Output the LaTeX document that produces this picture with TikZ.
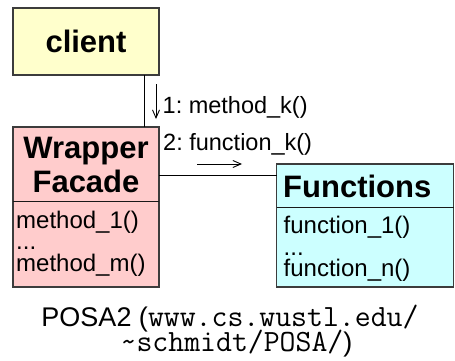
\documentclass[tikz,border=0pt]{standalone}
\usepackage{fontspec}
\setmainfont{Liberation Sans}
\usetikzlibrary{arrows.meta}

\definecolor{clientfill}{HTML}{FFFFCC}
\definecolor{wrapperfill}{HTML}{FFCCCC}
\definecolor{funcfill}{HTML}{CCFFFF}
\definecolor{edgegray}{HTML}{3C3C3C}

\tikzset{
  classbox/.style={draw=edgegray, line width=1.5pt, rectangle, inner sep=0pt,
                   outer sep=0pt, anchor=north west},
  divider/.style={draw=black!90, line width=1pt},
  link/.style={draw=black, line width=1pt},
  msgarrow/.style={draw=black, line width=0.9pt,
                   -{Straight Barb[length=8pt,width=7pt,line width=0.9pt]}},
  titletext/.style={font=\fontsize{31}{34}\selectfont\bfseries, inner sep=0pt},
  membertext/.style={font=\fontsize{24}{26}\selectfont, inner sep=0pt, anchor=base west},
  msgtext/.style={font=\fontsize{23.5}{26}\selectfont, inner sep=0pt, anchor=base west},
  captiontext/.style={font=\fontsize{27}{30}\selectfont, inner sep=0pt, anchor=base},
}
\newcommand{\captt}{\fontsize{30.9}{30}\selectfont\ttfamily}
\frenchspacing

\begin{document}
\begin{tikzpicture}[x=1pt, y=-1pt]
\useasboundingbox (0,0) rectangle (455,361);

% class boxes
\node[classbox, fill=clientfill, minimum width=146pt, minimum height=67pt] (client) at (13,8) {};
\node[classbox, fill=wrapperfill, minimum width=146pt, minimum height=160pt] (wrapper) at (13,127) {};
\node[classbox, fill=funcfill, minimum width=177pt, minimum height=123pt] (functions) at (276.5,164) {};

% compartment dividers
\coordinate (wdiv) at (0,201);
\coordinate (fdiv) at (0,207.5);
\draw[divider] (wrapper.west |- wdiv) -- (wrapper.east |- wdiv);
\draw[divider] (functions.west |- fdiv) -- (functions.east |- fdiv);

% class names
\node[titletext] (clientname) at (client.center) {client};
\node[titletext, anchor=base] (wrapname1) at (86,158) {Wrapper};
\node[titletext, anchor=base] (wrapname2) at (86,192) {Facade};
\node[titletext, anchor=base west] (funcname) at (283,197) {Functions};

% members
\node[membertext] (m1) at (16,228) {method\_1()};
\node[membertext] (m2) at (16,249) {...};
\node[membertext] (m3) at (16,271) {method\_m()};
\node[membertext] (f1) at (283.5,233) {function\_1()};
\node[membertext] (f2) at (283.5,255) {...};
\node[membertext] (f3) at (283.5,276) {function\_n()};

% associations
\coordinate (cwx) at (144,0);
\coordinate (wfy) at (0,175);
\draw[link] (client.south -| cwx) -- (wrapper.north -| cwx);
\draw[link] (wrapper.east |- wfy) -- (functions.west |- wfy);

% messages
\node[msgtext] (msg1) at (162.5,113) {1: method\_k()};
\node[msgtext] (msg2) at (163,150) {2: function\_k()};
\coordinate (a1s) at (156,84);
\coordinate (a1e) at (156,119);
\coordinate (a2s) at (197,164);
\coordinate (a2e) at (242,164);
\draw[msgarrow] (a1s) -- (a1e);
\draw[msgarrow] (a2s) -- (a2e);

% reference
\node[captiontext] (cap1) at (230,326) {POSA2 ({\captt www.cs.wustl.edu/}};
\node[captiontext] (cap2) at (236.5,351) {{\captt \textasciitilde schmidt/POSA/})};
\end{tikzpicture}
\end{document}
